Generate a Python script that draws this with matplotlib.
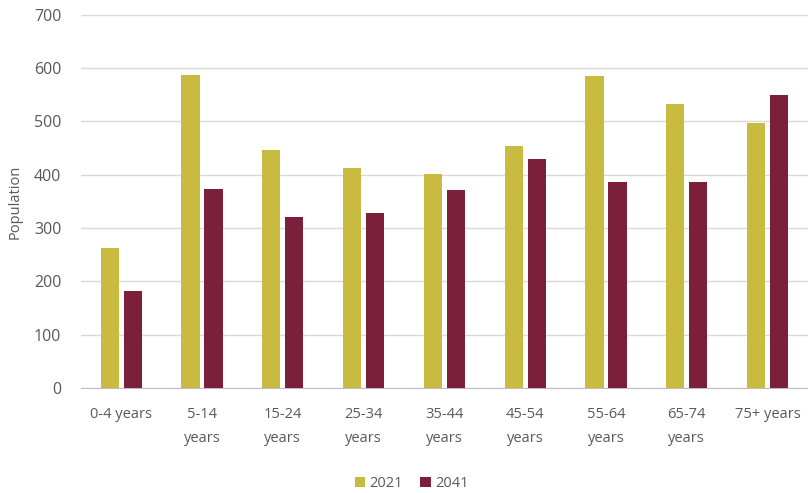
import matplotlib.pyplot as plt
import numpy as np

YELLOW = "#C9BB3F"
MAROON = "#7C1F3A"
GREY = "#595959"
GRID = "#D9D9D9"

age_groups = ["0-4 years", "5-14\nyears", "15-24\nyears", "25-34\nyears", "35-44\nyears",
              "45-54\nyears", "55-64\nyears", "65-74\nyears", "75+ years"]
pop_2021 = [263, 587, 447, 413, 401, 453, 586, 533, 497]
pop_2041 = [181, 374, 321, 329, 371, 430, 386, 386, 550]

plt.rcParams["font.family"] = ["Open Sans", "DejaVu Sans"]

fig = plt.figure(figsize=(8.08, 4.93), dpi=100)
ax = fig.add_axes([0.1, 0.213, 0.9, 0.757])

x = np.arange(len(age_groups))
w = 0.225
off = 0.142
ax.bar(x - off, pop_2021, width=w, color=YELLOW, label="2021", zorder=3)
ax.bar(x + off, pop_2041, width=w, color=MAROON, label="2041", zorder=3)

ax.set_xlim(-0.5, len(age_groups) - 0.5)
ax.set_ylim(0, 700)
ax.set_yticks(range(0, 701, 100))
ax.yaxis.grid(True, color=GRID, linewidth=1, zorder=0)
ax.set_axisbelow(True)

for s in ["top", "right", "left"]:
    ax.spines[s].set_visible(False)
ax.spines["bottom"].set_color("#BFBFBF")

ax.set_xticks(x)
ax.set_xticklabels(age_groups, fontsize=10.5, color=GREY, linespacing=1.75)
ax.tick_params(axis="x", length=0, pad=14)
ax.tick_params(axis="y", length=0, pad=14, labelsize=11.5, labelcolor=GREY)

ax.set_ylabel("Population", fontsize=10.5, color=GREY, labelpad=8)

ax.legend(loc="upper center", bbox_to_anchor=(0.455, -0.2), ncol=2, frameon=False,
          fontsize=10.5, labelcolor=GREY, handlelength=0.7, handleheight=0.7,
          handletextpad=0.3, columnspacing=1.2)

fig.savefig("out.png", dpi=100, facecolor="white")
